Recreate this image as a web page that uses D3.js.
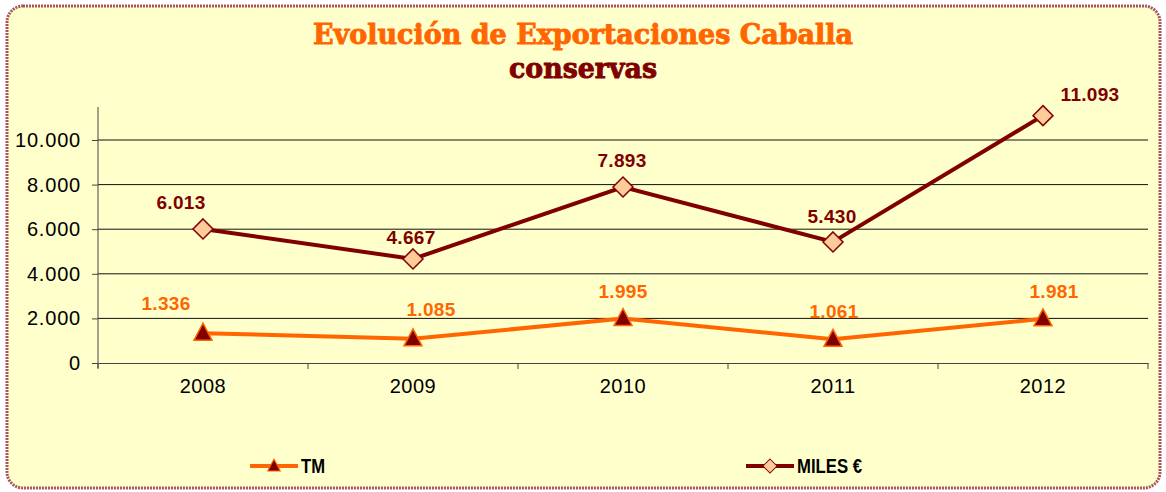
<!DOCTYPE html>
<html>
<head>
<meta charset="utf-8">
<script src="https://cdn.jsdelivr.net/npm/d3@7"></script>
<style>
  body { margin: 0; background: #fff; }
  svg text { font-family: "Liberation Sans", Arial, sans-serif; }
</style>
</head>
<body>
<script>
const years = ['2008', '2009', '2010', '2011', '2012'];
const tm = [1336, 1085, 1995, 1061, 1981];
const miles = [6013, 4667, 7893, 5430, 11093];
const yTicks = [0, 2000, 4000, 6000, 8000, 10000];

const W = 1166, H = 492;
const orange = '#ff6600', maroon = '#800000';

// label nudges, as Excel left them
const tmOff = [[-37, -23], [18, -23], [0, -21], [1, -21], [11, -21]];
const milesOff = [[-22, -20], [-2, -15], [-1, -20], [-1, -19], [47, -15]];

const fmt = v => d3.format(',')(v).replace(/,/g, '.');

const svg = d3.select('body').append('svg')
  .attr('width', W).attr('height', H);

svg.append('rect')
  .attr('x', 7).attr('y', 6).attr('width', W - 13).attr('height', H - 10)
  .attr('rx', 16)
  .attr('fill', '#ffffcc')
  .attr('stroke', '#a8545e')
  .attr('stroke-width', 3)
  .attr('stroke-dasharray', '2 1');

function title(txt, y0, len, color) {
  svg.append('text')
    .attr('x', 583).attr('y', y0)
    .attr('text-anchor', 'middle')
    .attr('textLength', len).attr('lengthAdjust', 'spacingAndGlyphs')
    .style('font-family', '"DejaVu Serif", serif')
    .style('font-weight', 'bold')
    .style('font-size', '27px')
    .attr('fill', color).attr('stroke', color).attr('stroke-width', 0.9)
    .text(txt);
}
title('Evolución de Exportaciones Caballa', 44, 540, orange);
title('conservas', 78, 148, maroon);

const x = d3.scaleBand().domain(years).range([98, 1148]);
const y = d3.scaleLinear().domain([0, 11480]).range([363, 107]);

const g = svg.append('g');

// gridlines
g.selectAll('line.grid')
  .data(yTicks.filter(d => d > 0))
  .join('line')
  .attr('x1', 98).attr('x2', 1148)
  .attr('y1', d => y(d)).attr('y2', d => y(d))
  .attr('stroke', '#111').attr('stroke-width', 1);

// y axis
const yAxis = g.append('g')
  .attr('transform', 'translate(98,0)')
  .call(d3.axisLeft(y).tickValues(yTicks).tickFormat(fmt).tickSize(6).tickPadding(11));
yAxis.select('.domain').attr('stroke', '#444').attr('d', `M0,${y(11480)}V${y(0) + 5}`);
yAxis.selectAll('.tick line').attr('stroke', '#444');
yAxis.selectAll('text')
  .style('font-size', '20px').style('letter-spacing', '0.8px').attr('fill', '#000');

// x axis
const xAxis = g.append('g')
  .attr('transform', `translate(0,${y(0)})`)
  .call(d3.axisBottom(x).tickSize(0).tickPadding(16));
xAxis.select('.domain').attr('stroke', '#444');
xAxis.selectAll('text').style('font-size', '20px').style('letter-spacing', '0.5px').attr('fill', '#000');
g.selectAll('line.xt')
  .data(x.domain().concat(['end']))
  .join('line')
  .attr('class', 'xt')
  .attr('x1', (d, i) => 98 + i * x.bandwidth())
  .attr('x2', (d, i) => 98 + i * x.bandwidth())
  .attr('y1', y(0)).attr('y2', y(0) + 6)
  .attr('stroke', '#444');

const cx = d => x(d) + x.bandwidth() / 2;
const line = d3.line().x((d, i) => cx(years[i])).y(d => y(d));

g.append('path').datum(miles)
  .attr('d', line).attr('fill', 'none')
  .attr('stroke', maroon).attr('stroke-width', 4);
g.append('path').datum(tm)
  .attr('d', line).attr('fill', 'none')
  .attr('stroke', orange).attr('stroke-width', 4);

const diamond = 'M0,-10L10,0L0,10L-10,0Z';
const tri = 'M0,-10L9,7L-9,7Z';

g.selectAll('path.dm')
  .data(miles).join('path')
  .attr('class', 'dm')
  .attr('d', diamond)
  .attr('transform', (d, i) => `translate(${cx(years[i])},${y(d)})`)
  .attr('fill', '#ffcc99').attr('stroke', maroon).attr('stroke-width', 1.5);

g.selectAll('path.tr')
  .data(tm).join('path')
  .attr('class', 'tr')
  .attr('d', tri)
  .attr('transform', (d, i) => `translate(${cx(years[i])},${y(d)})`)
  .attr('fill', maroon).attr('stroke', orange).attr('stroke-width', 1.5);

g.selectAll('text.lm')
  .data(miles).join('text')
  .attr('class', 'lm')
  .attr('x', (d, i) => cx(years[i]) + milesOff[i][0])
  .attr('y', (d, i) => y(d) + milesOff[i][1])
  .attr('text-anchor', 'middle')
  .style('font-size', '19px').style('font-weight', 'bold').style('letter-spacing', '0.3px')
  .attr('fill', maroon)
  .text(fmt);

g.selectAll('text.lt')
  .data(tm).join('text')
  .attr('class', 'lt')
  .attr('x', (d, i) => cx(years[i]) + tmOff[i][0])
  .attr('y', (d, i) => y(d) + tmOff[i][1])
  .attr('text-anchor', 'middle')
  .style('font-size', '19px').style('font-weight', 'bold').style('letter-spacing', '0.3px')
  .attr('fill', orange)
  .text(fmt);

// legend
const legend = [
  { name: 'TM', x: 250, w: 24, color: orange, shape: tri, fill: maroon, stroke: orange },
  { name: 'MILES €', x: 746, w: 65, color: maroon, shape: diamond, fill: '#ffcc99', stroke: maroon }
];
const lg = svg.selectAll('g.leg').data(legend).join('g')
  .attr('class', 'leg')
  .attr('transform', d => `translate(${d.x},466)`);
lg.append('line')
  .attr('x1', 0).attr('x2', 48)
  .attr('stroke', d => d.color).attr('stroke-width', 4);
lg.append('path')
  .attr('d', d => d.shape)
  .attr('transform', 'translate(24,0) scale(0.7)')
  .attr('fill', d => d.fill).attr('stroke', d => d.stroke).attr('stroke-width', 1.5);
lg.append('text')
  .attr('x', 51).attr('y', 7)
  .attr('textLength', d => d.w).attr('lengthAdjust', 'spacingAndGlyphs')
  .style('font-size', '21px').style('font-weight', 'bold')
  .attr('fill', '#000')
  .text(d => d.name);
</script>
</body>
</html>
